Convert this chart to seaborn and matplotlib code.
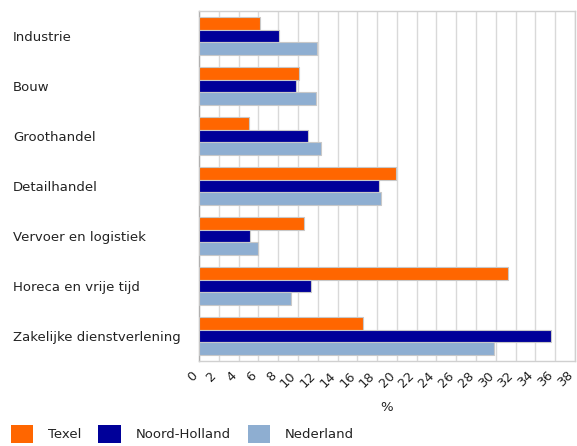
import seaborn as sns
import matplotlib.pyplot as plt
import matplotlib.transforms as mtransforms
import pandas as pd
from matplotlib.patches import Patch

sns.set_style('white')
plt.rcParams['font.family'] = ['DejaVu Sans']

sectoren = ['Industrie', 'Bouw', 'Groothandel', 'Detailhandel',
            'Vervoer en logistiek', 'Horeca en vrije tijd',
            'Zakelijke dienstverlening']
regios = ['Texel', 'Noord-Holland', 'Nederland']
texel = [6.2, 10.1, 5.1, 19.9, 10.6, 31.2, 16.6]
noord_holland = [8.1, 9.8, 11.0, 18.2, 5.2, 11.3, 35.6]
nederland = [11.9, 11.8, 12.3, 18.4, 6.0, 9.3, 29.8]
kleuren = ['#ff6600', '#000099', '#8eaed1']
xticks = list(range(0, 40, 2))

df = pd.DataFrame({
    'sector': sectoren * 3,
    'regio': [r for r in regios for _ in sectoren],
    'waarde': texel + noord_holland + nederland,
})

fig = plt.figure(figsize=(5.77, 4.46), dpi=100)
ax = fig.add_axes([199 / 577, 1 - 361 / 446, 376 / 577, 350 / 446])

sns.barplot(data=df, y='sector', x='waarde', hue='regio',
            order=sectoren, hue_order=regios, palette=kleuren,
            saturation=1, orient='h', width=0.75, edgecolor='#c8c8c8',
            linewidth=0.8, legend=False, ax=ax, zorder=3)

ax.set_xlim(0, 38)
ax.set_xticks(xticks)
ax.set_xticklabels([str(t) for t in xticks], rotation=45, ha='right',
                   va='center', rotation_mode='anchor', fontsize=9.3,
                   color='#222222')
ax.tick_params(axis='x', length=0, pad=9)
shift = mtransforms.ScaledTranslation(-4 / 100, 0, fig.dpi_scale_trans)
for lbl in ax.get_xticklabels():
    lbl.set_transform(lbl.get_transform() + shift)
ax.xaxis.grid(True, color='#d9d9d9', linewidth=1, zorder=0)
ax.set_axisbelow(True)
ax.set_xlabel('%', fontsize=9.5, color='#222222', labelpad=8)
ax.set_ylabel('')

ax.tick_params(axis='y', length=0, pad=186 * 0.72)
for lbl in ax.get_yticklabels():
    lbl.set_horizontalalignment('left')
    lbl.set_fontsize(9.5)
    lbl.set_color('#222222')

for s in ax.spines.values():
    s.set_color('#d0d0d0')
    s.set_linewidth(1)
ax.spines['left'].set_color('#b0b0b0')

handles = [Patch(facecolor=c, edgecolor='none') for c in kleuren]
fig.legend(handles, regios, loc='upper left',
           bbox_to_anchor=(11 / 577, 1 - 425 / 446), ncol=3, frameon=False,
           fontsize=9.5, handlelength=1.7, handleheight=1.7,
           handletextpad=1.1, columnspacing=1.3, borderpad=0,
           borderaxespad=0, labelcolor='#222222')

fig.savefig('out.png', dpi=100)
